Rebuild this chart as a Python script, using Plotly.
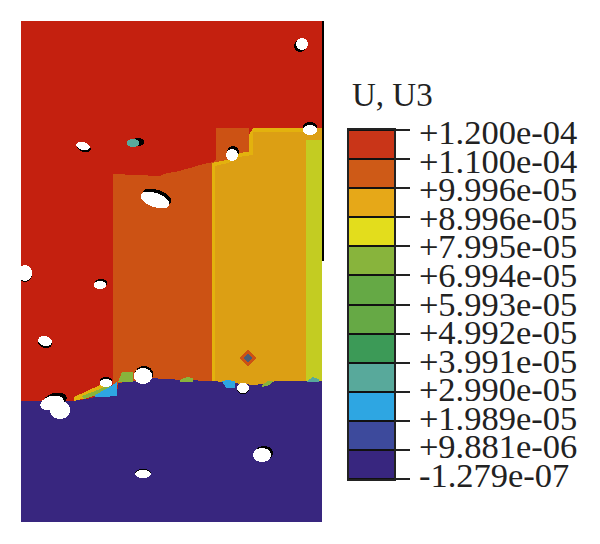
import numpy as np
import plotly.graph_objects as go

# Legend values, top to bottom
LEVEL_LABELS = ["+1.200e-04", "+1.100e-04", "+9.996e-05", "+8.996e-05", "+7.995e-05", "+6.994e-05",
                "+5.993e-05", "+4.992e-05", "+3.991e-05", "+2.990e-05", "+1.989e-05", "+9.881e-06", "-1.279e-07"]
LEGEND_COLORS = ["#C93518", "#CE5A17", "#E6A818", "#E3DD1C", "#88B43C", "#65A945",
                 "#66A945", "#3C9A57", "#58A99B", "#2EA6E2", "#3D4A9C", "#38267F"]
LEGEND_BANDS = list(range(12))

# Field palette: 0-11 as legend (field tones), then extras
FIELD_COLORS = ["#C4200F", "#CC5214", "#DC9F14", "#C3CC22", "#88B43C", "#65A945",
                "#66A945", "#3C9A57", "#58A99B", "#2EA6E2", "#3D4A9C", "#38267F",
                "#000000", "#FFFFFF", "#E3B20E", "#4A5E78"]
RED, ORANGE, AMBER, LIME, GREEN, TEAL, CYAN, BLUE, BLACK, WHITE, BRIGHT, SLATE = 0, 1, 2, 3, 4, 8, 9, 11, 12, 13, 14, 15

# Region outlines: (level, x list, y list); painted in order
ORANGE_X = [113, 113, 160, 167, 175, 190, 200, 213, 216, 216, 249, 249, 322, 322, 113]
ORANGE_Y = [385, 174, 176, 173, 172, 168, 165, 162, 160, 128, 128, 150, 150, 385, 385]
AMBER_X = [212, 212, 227, 238, 249, 249, 253, 322, 322, 212]
AMBER_Y = [385, 163, 160, 153, 152, 135, 128, 128, 385, 385]
BRIGHT_X = [212, 212, 227, 238, 249, 249, 253, 305, 305, 253, 253, 239, 228, 215, 215]
BRIGHT_Y = [385, 163, 160, 153, 152, 135, 128, 128, 132, 132, 155, 157, 163, 166, 385]
LIME_X = [306, 306, 322, 322, 306]
LIME_Y = [385, 140, 140, 385, 385]
FRINGE1_X = [74, 87, 100, 106, 104, 87, 74]
FRINGE1_Y = [397, 391, 385, 385, 392, 398, 401]
FRINGE2_X = [82, 100, 110, 112, 100, 84]
FRINGE2_Y = [396, 389, 384, 390, 394, 399]
FRINGE3_X = [95, 108, 117, 117, 104, 95]
FRINGE3_Y = [395, 388, 382, 396, 397, 397]
FRINGE4_X = [118, 122, 133, 133, 118]
FRINGE4_Y = [382, 372, 372, 382, 382]
FRINGE5_X = [180, 187, 193, 193, 180]
FRINGE5_Y = [380, 377, 378, 382, 382]
FRINGE6_X = [222, 228, 235, 235, 226]
FRINGE6_Y = [381, 380, 381, 388, 388]
FRINGE7_X = [262, 268, 274, 270, 262]
FRINGE7_Y = [385, 381, 381, 385, 387]
FRINGE8_X = [307, 313, 319, 319, 307]
FRINGE8_Y = [381, 377, 379, 382, 382]
BLUE_X = [21, 40, 72, 87, 100, 117, 118, 133, 150, 183, 213, 233, 255, 267, 277, 322, 322, 21]
BLUE_Y = [401, 401, 401, 399, 396, 396, 383, 381, 378, 380, 381, 383, 385, 383, 381, 381, 522, 522]
HALO_X = [248, 256, 248, 240]
HALO_Y = [349, 358, 367, 358]
CORE_X = [248, 252, 248, 244]
CORE_Y = [353, 358, 363, 358]

REGIONS = [(ORANGE, ORANGE_X, ORANGE_Y), (AMBER, AMBER_X, AMBER_Y), (BRIGHT, BRIGHT_X, BRIGHT_Y),
           (LIME, LIME_X, LIME_Y), (BLUE, BLUE_X, BLUE_Y), (BRIGHT, FRINGE1_X, FRINGE1_Y),
           (GREEN, FRINGE2_X, FRINGE2_Y), (CYAN, FRINGE3_X, FRINGE3_Y), (GREEN, FRINGE4_X, FRINGE4_Y),
           (GREEN, FRINGE5_X, FRINGE5_Y), (CYAN, FRINGE6_X, FRINGE6_Y), (GREEN, FRINGE7_X, FRINGE7_Y),
           (TEAL, FRINGE8_X, FRINGE8_Y), (ORANGE, HALO_X, HALO_Y), (SLATE, CORE_X, CORE_Y)]

# Voids in the mesh: centre, radii, tilt, shadow offset, core level
VOID_X = [302, 310, 232, 83, 133, 155, 25, 100, 45, 106, 143, 52, 60, 243, 262, 143]
VOID_Y = [44, 130, 155, 146, 143, 200, 273, 285, 341, 383, 376, 403, 410, 388, 455, 474]
VOID_RX = [6, 7, 6, 7, 6, 15, 7, 6, 7, 6, 9, 12, 10, 6, 9, 8]
VOID_RY = [6, 5, 6, 4, 4, 7, 8, 4, 5, 4, 8, 7, 9, 5, 7, 4]
VOID_TILT = [-30, 0, 30, 15, 0, 20, 0, 0, 15, 0, 0, -15, 0, 0, 0, 0]
SHADOW_DX = [-2, 0, 1, 1, 5, 2, 0, 1, 0, 0, 1, 3, 0, 0, 2, 0]
SHADOW_DY = [2, -3, -3, 2, -1, -3, 1, -2, 2, -2, -2, -3, 0, 1, -2, -1]
VOID_CORE = [WHITE, WHITE, WHITE, WHITE, TEAL, WHITE, WHITE, WHITE, WHITE, WHITE, WHITE, WHITE, WHITE, WHITE, WHITE, WHITE]

# Black rod beside the upper part of the field
ROD_X = [322, 324]
ROD_Y = [21, 261]

# Where each legend label sits relative to its tick band: labels are set slightly tighter than the ticks
LABEL_POSITIONS = list(range(13))

xs = np.arange(21, 325) + 0.5
ys = np.arange(21, 522) + 0.5
X, Y = np.meshgrid(xs, ys)


def inside(px, py):
    px = np.asarray(px, float)
    py = np.asarray(py, float)
    mask = np.zeros(X.shape, bool)
    for i in range(len(px)):
        j = i - 1
        cross = (py[i] > Y) != (py[j] > Y)
        with np.errstate(divide="ignore", invalid="ignore"):
            at = px[i] + (Y - py[i]) * (px[j] - px[i]) / (py[j] - py[i])
        mask ^= cross & (X < at)
    return mask


def ellipse(cx, cy, rx, ry, tilt):
    a = np.radians(tilt)
    u = (X - cx) * np.cos(a) + (Y - cy) * np.sin(a)
    v = -(X - cx) * np.sin(a) + (Y - cy) * np.cos(a)
    return (u / rx) ** 2 + (v / ry) ** 2 <= 1


z = np.full(X.shape, RED, dtype=int)
for level, px, py in REGIONS:
    z[inside(px, py)] = level
for i in range(len(VOID_X)):
    z[ellipse(VOID_X[i] + SHADOW_DX[i], VOID_Y[i] + SHADOW_DY[i], VOID_RX[i], VOID_RY[i], VOID_TILT[i])] = BLACK
for i in range(len(VOID_X)):
    z[ellipse(VOID_X[i], VOID_Y[i], VOID_RX[i], VOID_RY[i], VOID_TILT[i])] = VOID_CORE[i]
z[X > 322] = WHITE
z[(X > ROD_X[0]) & (X < ROD_X[1]) & (Y < ROD_Y[1])] = BLACK

n = len(FIELD_COLORS)
field_scale = []
for i, c in enumerate(FIELD_COLORS):
    field_scale += [[i / n, c], [(i + 1) / n, c]]

m = len(LEGEND_COLORS)
legend_scale = []
for i, c in enumerate(LEGEND_COLORS[::-1]):
    legend_scale += [[i / m, c], [(i + 1) / m, c]]

W, H = 600, 544
fig = go.Figure()
fig.add_trace(go.Heatmap(x=xs, y=ys, z=z, colorscale=field_scale, zmin=-0.5, zmax=n - 0.5,
                         showscale=False, hoverinfo="skip", xaxis="x", yaxis="y"))
fig.add_trace(go.Heatmap(x=["U3"], y=[i + 0.5 for i in LEGEND_BANDS], z=[[i] for i in LEGEND_BANDS],
                         colorscale=legend_scale, zmin=-0.5, zmax=m - 0.5, ygap=2,
                         showscale=False, hoverinfo="skip", xaxis="x2", yaxis="y2"))
fig.add_trace(go.Scatter(x=[0] * 13, y=LABEL_POSITIONS, mode="none", hoverinfo="skip",
                         xaxis="x3", yaxis="y3"))
fig.update_layout(
    width=W, height=H, margin=dict(l=0, r=0, t=0, b=0, pad=0),
    paper_bgcolor="#FFFFFF", plot_bgcolor="#111111", showlegend=False,
    xaxis=dict(domain=[21 / W, 325 / W], range=[21, 325], visible=False, automargin=False),
    yaxis=dict(domain=[(H - 522) / H, (H - 21) / H], range=[522, 21], visible=False, automargin=False),
    xaxis2=dict(domain=[349 / W, 394 / W], anchor="y2", showticklabels=False, ticks="", automargin=False,
                showline=True, mirror=True, linecolor="#222222", linewidth=2, showgrid=False),
    yaxis2=dict(domain=[(H - 479) / H, (H - 130) / H], anchor="x2", side="right", range=[0, 12], automargin=False,
                tickvals=list(range(13)), showticklabels=False, ticks="outside", ticklen=14,
                tickwidth=2, tickcolor="#222222", showline=True, mirror=True, linecolor="#222222",
                linewidth=2, showgrid=False, zeroline=False),
    xaxis3=dict(domain=[394 / W, 395 / W], anchor="y3", range=[-1, 1], visible=False, automargin=False),
    yaxis3=dict(domain=[(H - 475) / H, (H - 132) / H], anchor="x3", side="right", range=[0, 12], automargin=False,
                tickvals=LABEL_POSITIONS, ticktext=LEVEL_LABELS[::-1], ticks="outside", ticklen=14,
                tickcolor="rgba(0,0,0,0)", showline=False, showgrid=False, zeroline=False,
                ticklabelstandoff=2, tickfont=dict(family="Liberation Serif", size=34.5, color="#222222")),
    annotations=[dict(text="U, U3", xref="paper", yref="paper", x=350 / W, y=(H - 95) / H,
                      xanchor="left", yanchor="middle", showarrow=False,
                      font=dict(family="Liberation Serif", size=33, color="#222222"))],
)
fig.write_html("out.html", post_script="document.body.style.margin='0';",
               config=dict(displayModeBar=False))
